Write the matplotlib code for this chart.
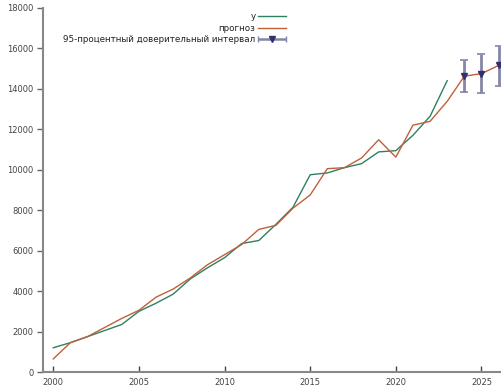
import numpy as np
import matplotlib
matplotlib.use("Agg")
import matplotlib.pyplot as plt
from matplotlib.legend_handler import HandlerErrorbar

# Фактические значения y
years = list(range(2000, 2024))
y_actual = [1200, 1450, 1750, 2050, 2350, 3000, 3400, 3850, 4600, 5150,
            5650, 6350, 6500, 7300, 8150, 9750, 9840, 10100, 10300, 10880,
            10940, 11700, 12640, 14400]

# Прогноз (в выборке и вне выборки)
fc_years = list(range(2000, 2027))
y_forecast = [650, 1450, 1750, 2200, 2650, 3050, 3700, 4100, 4650, 5300,
              5800, 6300, 7050, 7250, 8100, 8750, 10050, 10100, 10580, 11480,
              10620, 12200, 12390, 13380, 14620, 14750, 15150]

# 95-процентный доверительный интервал для прогноза
ci_years = [2024, 2025, 2026]
ci_center = [14620, 14750, 15150]
ci_low = [13830, 13800, 14120]
ci_high = [15410, 15730, 16100]

green = "#2d8060"
red = "#c0603a"
bar_col = "#8585a8"
navy = "#303070"

plt.rcParams["font.family"] = ["DejaVu Sans"]
fig = plt.figure(figsize=(5.02, 3.92), dpi=100)
ax = fig.add_axes([0.0857, 0.051, 0.9143, 0.929])

ax.plot(years, y_actual, color=green, lw=1.0, label="y")
ax.plot(fc_years, y_forecast, color=red, lw=1.0, label="прогноз")

err = [np.array(ci_center) - np.array(ci_low), np.array(ci_high) - np.array(ci_center)]
ax.errorbar(ci_years, ci_center, yerr=err, fmt="none", ecolor=bar_col,
            elinewidth=2, capsize=3, capthick=1.2, zorder=3)
ax.plot(ci_years, ci_center, ls="none", marker="v", ms=5, color=navy, zorder=4)

# отдельный элемент для легенды: горизонтальный отрезок с засечками
proxy = ax.errorbar([np.nan], [np.nan], xerr=[1], fmt="v", color=navy, ms=5,
                    ecolor=bar_col, elinewidth=1.8, capsize=2.5, capthick=1.0,
                    label="95-процентный доверительный интервал")

ax.set_xlim(1999.4, 2026.2)
ax.set_ylim(0, 18000)
ax.set_xticks([2000, 2005, 2010, 2015, 2020, 2025])
ax.set_yticks(range(0, 18001, 2000))

for s in ["top", "right"]:
    ax.spines[s].set_visible(False)
for s in ["left", "bottom"]:
    ax.spines[s].set_color("#888888")
    ax.spines[s].set_linewidth(1.5)

ax.tick_params(axis="y", direction="out", length=4, width=1, color="#666666",
               labelsize=6.0, labelcolor="#444444", pad=3)
ax.tick_params(axis="x", direction="in", length=4, width=1, color="#444444",
               labelsize=6.0, labelcolor="#444444", pad=4)

leg = ax.legend(handler_map={type(proxy): HandlerErrorbar(xerr_size=1.6)},
                loc="upper right", bbox_to_anchor=(0.570, 0.969),
                bbox_transform=fig.transFigure, frameon=False, markerfirst=False,
                fontsize=6.3, handlelength=3.2, handletextpad=0.3,
                labelspacing=0.28, borderpad=0, borderaxespad=0)
for t in leg.get_texts():
    t.set_color("#222222")

fig.savefig("out.png", dpi=100)
